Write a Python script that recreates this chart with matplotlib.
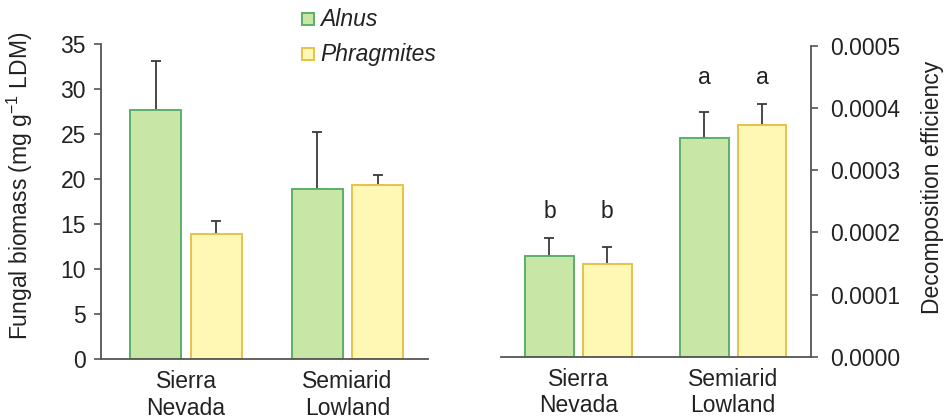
import matplotlib
matplotlib.use("Agg")
import matplotlib.pyplot as plt
import numpy as np
from matplotlib.patches import Rectangle

plt.rcParams['font.family'] = ['Liberation Sans', 'DejaVu Sans']
plt.rcParams['mathtext.fontset'] = 'custom'
plt.rcParams['mathtext.rm'] = 'Liberation Sans'

sites = ["Sierra\nNevada", "Semiarid\nLowland"]
species = ["Alnus", "Phragmites"]

# Fungal biomass (mg g-1 LDM): mean and SE
biomass_alnus = [27.7, 18.9]
biomass_alnus_se = [5.4, 6.3]
biomass_phrag = [13.9, 19.3]
biomass_phrag_se = [1.4, 1.1]

# Decomposition efficiency: mean and SE
eff_alnus = [0.000162, 0.000352]
eff_alnus_se = [0.000029, 0.000041]
eff_phrag = [0.000149, 0.000372]
eff_phrag_se = [0.000028, 0.000034]
eff_letters_alnus = ["b", "a"]
eff_letters_phrag = ["b", "a"]

fill = {"Alnus": "#c8e6a5", "Phragmites": "#fff7b4"}
edge = {"Alnus": "#5caf6a", "Phragmites": "#e6c24a"}
axis_col = "#555555"
text_col = "#222222"
fs = 16.5

fig = plt.figure(figsize=(9.46, 4.2), dpi=100)
ax1 = fig.add_axes([0.1068, 0.1452, 0.3457, 0.75])
ax2 = fig.add_axes([0.5293, 0.1507, 0.3277, 0.7405])

x = np.arange(len(sites))
w = 0.315
off = 0.187
err_kw = dict(ecolor="#3a3a3a", elinewidth=1.3, capsize=3.5, capthick=1.3)


def draw_panel(ax, a, a_se, p, p_se):
    ax.bar(x - off, a, w, color=fill["Alnus"], edgecolor=edge["Alnus"], linewidth=1.4,
           zorder=2)
    ax.bar(x + off, p, w, color=fill["Phragmites"], edgecolor=edge["Phragmites"],
           linewidth=1.4, zorder=2)
    ax.errorbar(x - off, a, yerr=[np.zeros(len(a)), a_se], fmt="none", zorder=1, **err_kw)
    ax.errorbar(x + off, p, yerr=[np.zeros(len(p)), p_se], fmt="none", zorder=1, **err_kw)
    ax.set_xticks(x)
    ax.set_xticklabels(sites, fontsize=fs, color=text_col, linespacing=1.2)
    ax.tick_params(axis="x", length=0, pad=8)
    ax.tick_params(axis="y", labelsize=fs, colors=axis_col, labelcolor=text_col,
                   direction="out", length=5, width=1.2)
    ax.spines["top"].set_visible(False)
    for s in ("left", "right", "bottom"):
        ax.spines[s].set_color(axis_col)
        ax.spines[s].set_linewidth(1.3)


draw_panel(ax1, biomass_alnus, biomass_alnus_se, biomass_phrag, biomass_phrag_se)
ax1.spines["right"].set_visible(False)
ax1.set_xlim(-0.526, 1.498)
ax1.set_ylim(0, 35)
ax1.set_yticks(np.arange(0, 36, 5))
ax1.tick_params(axis="y", pad=6)
ax1.set_ylabel(r"Fungal biomass (mg g$^{\mathregular{-1}}$ LDM)", fontsize=fs,
               color=text_col)
ax1.yaxis.set_label_coords(-0.203, 0.55)

draw_panel(ax2, eff_alnus, eff_alnus_se, eff_phrag, eff_phrag_se)
ax2.spines["left"].set_visible(False)
ax2.yaxis.tick_right()
ax2.yaxis.set_label_position("right")
ax2.set_xlim(-0.502, 1.502)
ax2.set_ylim(0, 0.0005)
ax2.set_yticks(np.arange(0, 0.00051, 0.0001))
ax2.set_yticklabels([f"{v:.4f}" for v in np.arange(0, 0.00051, 0.0001)])
ax2.tick_params(axis="y", pad=9)
ax2.set_ylabel("Decomposition efficiency", fontsize=fs, color=text_col)
ax2.yaxis.set_label_coords(1.355, 0.546)

# significance letters, one row per site above the taller error bar
for i in range(len(sites)):
    top = max(eff_alnus[i] + eff_alnus_se[i], eff_phrag[i] + eff_phrag_se[i])
    ly = top + 0.000043
    ax2.text(x[i] - off, ly, eff_letters_alnus[i], ha="center", va="center",
             fontsize=fs, color=text_col)
    ax2.text(x[i] + off, ly, eff_letters_phrag[i], ha="center", va="center",
             fontsize=fs, color=text_col)

# legend
for j, sp in enumerate(species):
    ypos = 1 - (19 + 35 * j) / 420
    fig.patches.append(Rectangle((302 / 946, ypos - 6 / 420), 12 / 946, 12 / 420,
                                 transform=fig.transFigure, facecolor=fill[sp],
                                 edgecolor=edge[sp], linewidth=1.4))
    fig.text(320 / 946, ypos, sp, fontsize=fs, style="italic", color=text_col,
             ha="left", va="center")

fig.savefig("out.png", dpi=100)
